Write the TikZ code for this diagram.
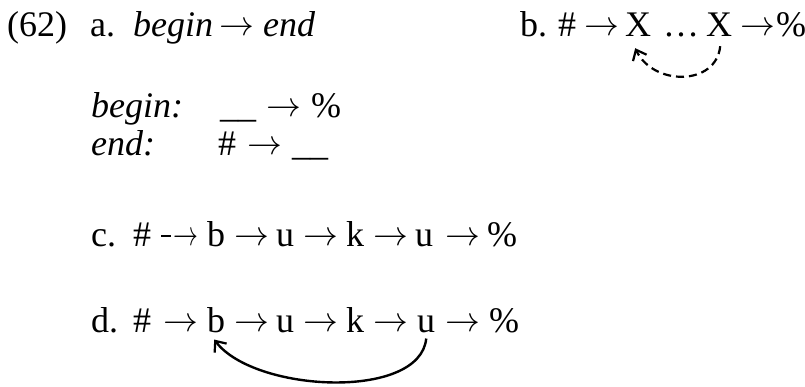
\documentclass[tikz,border=0pt]{standalone}
\usepackage{graphicx}
\usepackage{fontspec}
\setmainfont{Liberation Serif}
\usetikzlibrary{arrows.meta,calc}
\newcommand\myarr{\raisebox{1pt}{\scalebox{1.4}{$\rightarrow$}}}
\begin{document}
\begin{tikzpicture}[x=1pt,y=-1pt,
  tok/.style={anchor=base west, inner sep=0pt, font=\fontsize{36}{42}\selectfont},
  loopline/.style={line width=2.4pt, -{Straight Barb[length=9pt,width=15pt,line width=2.2pt]}}]
\useasboundingbox (0,0) rectangle (805,386);
% line a
\node[tok] (n62) at (7,36) {(62)};
\node[tok] (la) at (90,36) {a.};
\node[tok] (begA) at (133,36) {\itshape begin};
\node[tok] (arA) at (219,36) {\myarr};
\node[tok] (endA) at (263,36) {\itshape end};
% line b
\node[tok] (lb) at (520,36) {b.};
\node[tok] (hashB) at (558,36) {\#};
\node[tok] (arB1) at (584,36) {\myarr};
\node[tok] (X1) at (625,36) {X};
\node[tok] (dots) at (663,36) {\ldots};
\node[tok] (X2) at (706,36) {X};
\node[tok] (arB2) at (740,36) {\myarr};
\node[tok] (pctB) at (776,36) {\%};
% begin / end
\node[tok] (beginL) at (91,117) {\itshape begin:};
\node[tok] (blank1) at (220,117) {\_\_};
\node[tok] (arBeg) at (266,117) {\myarr};
\node[tok] (pctBeg) at (311,117) {\%};
\node[tok] (endL) at (91,155) {\itshape end:};
\node[tok] (hashE) at (218,155) {\#};
\node[tok] (arE) at (247,155) {\myarr};
\node[tok] (blank2) at (292,155) {\_\_};
% line c
\node[tok] (lc) at (91,246) {c.};
\node[tok] (hashC) at (133,246) {\#};
\node[tok] (arC0) at (161,246) {\rule[9pt]{10pt}{1.6pt}\kern2pt\raisebox{1pt}{\scalebox{1.0}[1.4]{$\rightarrow$}}};
\node[tok] (bC) at (207,246) {b};
\node[tok] (arC1) at (234,246) {\myarr};
\node[tok] (uC1) at (276,246) {u};
\node[tok] (arC2) at (303,246) {\myarr};
\node[tok] (kC) at (346,246) {k};
\node[tok] (arC3) at (373,246) {\myarr};
\node[tok] (uC2) at (415,246) {u};
\node[tok] (arC4) at (445,246) {\myarr};
\node[tok] (pctC) at (487,246) {\%};
% line d
\node[tok] (ld) at (91,332) {d.};
\node[tok] (hashD) at (133,332) {\#};
\node[tok] (arD0) at (163,332) {\myarr};
\node[tok] (bD) at (207,332) {b};
\node[tok] (arD1) at (234,332) {\myarr};
\node[tok] (uD1) at (276,332) {u};
\node[tok] (arD2) at (303,332) {\myarr};
\node[tok] (kD) at (346,332) {k};
\node[tok] (arD3) at (373,332) {\myarr};
\node[tok] (uD2) at (417,332) {u};
\node[tok] (arD4) at (445,332) {\myarr};
\node[tok] (pctD) at (489,332) {\%};
% arcs
\draw[loopline, dash pattern=on 8pt off 5pt, line width=2.2pt]
  ($(X2.south)+(1,10)$) .. controls ($(X2.south)+(-3,50)$) and ($(X1.south)+(15,50)$) .. ($(X1.south)+(-3,12)$);
\draw[loopline]
  ($(uD2.south)+(0,6)$) .. controls ($(uD2.south)+(-6,68)$) and ($(bD.south)+(38,60)$) .. ($(bD.south)+(-2,7)$);
\end{tikzpicture}
\end{document}
